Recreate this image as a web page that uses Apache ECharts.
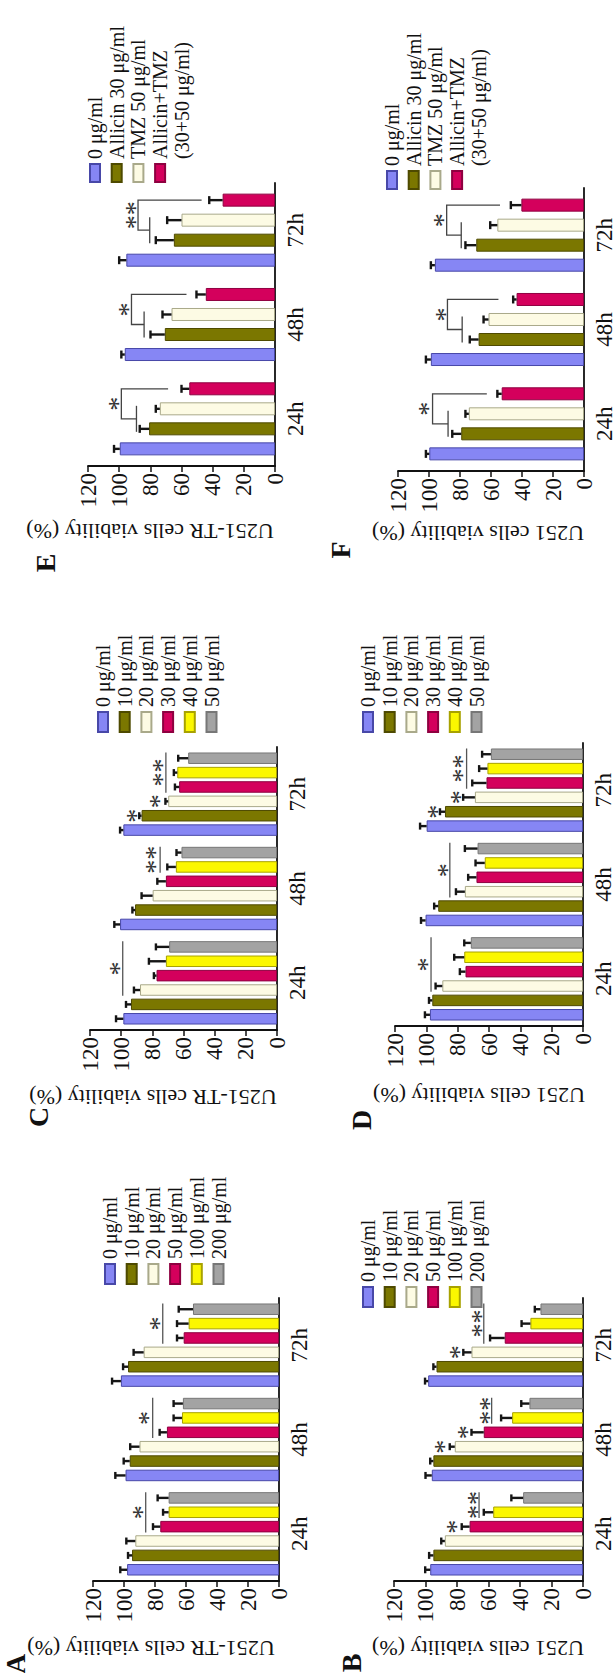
<!DOCTYPE html>
<html>
<head>
<meta charset="utf-8">
<script src="https://cdn.jsdelivr.net/npm/echarts@6/dist/echarts.min.js"></script>
<style>
    html, body { margin: 0; padding: 0; background: #fff; width: 616px; height: 1673px; overflow: hidden; }
    /* the figure is laid out landscape and turned a quarter anticlockwise */
    #page { position: absolute; left: 0; top: 0; width: 1673px; height: 616px; background: #fff;
            transform-origin: 0 0; transform: translateY(1673px) rotate(-90deg); }
    .panel { position: absolute; left: 0; top: 0; width: 1673px; height: 616px; }
</style>
</head>
<body>
<div id="page">
    <div class="panel" id="pA"></div>
    <div class="panel" id="pB"></div>
    <div class="panel" id="pC"></div>
    <div class="panel" id="pD"></div>
    <div class="panel" id="pE"></div>
    <div class="panel" id="pF"></div>
</div>
<script>
const hours = ['24h', '48h', '72h'];
const yTicks = [0, 120, 20];

const doseAB = ['0 μg/ml', '10 μg/ml', '20 μg/ml', '50 μg/ml', '100 μg/ml', '200 μg/ml'];
const doseCD = ['0 μg/ml', '10 μg/ml', '20 μg/ml', '30 μg/ml', '40 μg/ml', '50 μg/ml'];
const comboEF = ['0 μg/ml', 'Allicin 30 μg/ml', 'TMZ 50 μg/ml', 'Allicin+TMZ'];
const comboNote = '(30+50 μg/ml)';

const titleTR = 'U251-TR cells viability (%)';
const titleU = 'U251 cells viability (%)';

// one row per series, one value per time point (24h, 48h, 72h)
const valA = [[98, 99, 102], [94.8, 96.3, 97.4], [92.7, 90, 87.3], [76.6, 72.3, 61.5], [71.2, 62.6, 58.3], [71.2, 62, 55.5]];
const errA = [[4.4, 6.6, 5.7], [2.6, 3.9, 3.2], [5.8, 6, 6.5], [4.7, 4.7, 4.3], [3.6, 5.4, 7.5], [7.1, 6, 9.2]];
const valB = [[97, 96, 98.3], [95, 95, 93], [87.7, 81.4, 70.8], [72, 63, 49.7], [57, 45, 33.4], [38, 34, 27]];
const errB = [[3.2, 4, 2], [2.7, 2, 2], [2.3, 3.2, 5.2], [5, 7.8, 9.3], [6, 7, 5.6], [7.5, 5.2, 3.6]];
const valC = [[98.6, 100.7, 98.6], [93.7, 91.1, 86.9], [87.9, 79.8, 69.8], [77.3, 71.3, 62.8], [71.3, 64.9, 64], [69.2, 61.3, 57]];
const errC = [[4.7, 3.7, 2.1], [3.2, 1.7, 1.5], [3.9, 7.1, 1.8], [1.7, 5.5, 2.7], [10.9, 5.5, 2.2], [8.5, 3.2, 6.4]];
const valD = [[97.7, 100.5, 99.8], [96.2, 92.4, 88.1], [89.8, 75.4, 69], [75, 68, 61.6], [75.8, 62.7, 61], [71.6, 67.3, 58.8]];
const errD = [[3.2, 2.9, 4.2], [2.1, 2.6, 3.2], [4.3, 5.7, 7.5], [3.6, 5.3, 9.1], [6.4, 5.9, 5.3], [4.2, 8.1, 5.6]];
const valE = [[99.6, 96.4, 95.4], [80.8, 70.7, 64.9], [73.9, 66.4, 60], [55, 44.4, 33.6]];
const errE = [[3.7, 2.2, 4.6], [6, 9.2, 11.6], [2.6, 5.8, 9.2], [5, 6, 8.6]];
const valF = [[99.8, 98.8, 96.2], [79.2, 68, 69.5], [74.3, 61.6, 55.9], [53.1, 43.5, 40.4]];
const errF = [[2.2, 3.2, 2.6], [5.8, 5.7, 7], [2.2, 3.2, 4.6], [2.8, 2.2, 6.8]];

// significance: [time, firstBar, lastBar, lineValue (-1 = no line), starValue, stars]
const sigA = [[0, 3, 5, 86, 92, 1], [1, 3, 5, 81.5, 88, 1], [2, 3, 5, 75, 81, 1]];
const sigB = [[0, 3, 3, -1, 84, 1], [0, 4, 5, 66, 71, 2], [1, 2, 2, -1, 92, 1], [1, 3, 3, -1, 77, 1],
              [1, 4, 5, 58, 63, 2], [2, 2, 2, -1, 82, 1], [2, 3, 5, 63, 68, 2]];
const sigC = [[0, 2, 5, 99, 105, 1], [1, 4, 5, 75, 81.5, 2], [2, 1, 1, -1, 94, 1], [2, 2, 2, -1, 79, 1], [2, 3, 5, 71.3, 77.3, 2]];
const sigD = [[0, 2, 5, 97, 103, 1], [1, 2, 5, 85, 90.3, 1], [2, 1, 1, -1, 96.6, 1], [2, 2, 2, -1, 82, 1], [2, 3, 5, 74.3, 80.7, 2]];
// brackets: [time, pairLine, mainLine, dropEnd, starValue, stars]
const brkE = [[0, 88.9, 98.6, 68.6, 104, 1], [1, 84, 92.1, 56.8, 98, 1], [2, 80.4, 87.9, 47.1, 93.2, 2]];
const brkF = [[0, 87.7, 97.7, 62.7, 104, 1], [1, 78.6, 88.1, 55.2, 93.5, 1], [2, 79.2, 88.6, 54.2, 94.5, 1]];

const fills = ['#8686f4', '#7b7700', '#fdfbe4', '#d4005c', '#fbf700', '#a3a3a3'];
const borders = ['#4848a8', '#4e4a00', '#a9a98a', '#8e0040', '#a8a200', '#777777'];
const serif = 'Liberation Serif';
const ink = '#111';

// layout in landscape pixels: grid [left, top, height], legend [left, top, iconW]
const panels = [
    { id: 'pA', letter: 'A', title: titleTR, names: doseAB, vals: valA, errs: errA, sig: sigA,
      grid: [92, 93, 186], legend: [383, 95, 20], titleAt: [25, 151], letterAt: [9, 15], bw: 11.5, gap: 0.25, cap: 7 },
    { id: 'pB', letter: 'B', title: titleU, names: doseAB, vals: valB, errs: errB, sig: sigB,
      grid: [92, 394, 189], legend: [360, 353, 20], titleAt: [25, 478], letterAt: [10, 351], bw: 11.5, gap: 0.25, cap: 7 },
    { id: 'pC', letter: 'C', title: titleTR, names: doseCD, vals: valC, errs: errC, sig: sigC,
      grid: [643, 90, 187], legend: [935, 88, 20], titleAt: [576, 153], letterAt: [556, 38], bw: 11.5, gap: 0.25, cap: 7 },
    { id: 'pD', letter: 'D', title: titleU, names: doseCD, vals: valD, errs: errD, sig: sigD,
      grid: [647, 395, 188], legend: [935, 353, 20], titleAt: [578, 479], letterAt: [553, 361], bw: 11.5, gap: 0.25, cap: 7 },
    { id: 'pE', letter: 'E', title: titleTR, names: comboEF, vals: valE, errs: errE, brk: brkE,
      grid: [1207, 88, 187], legend: [1485, 80, 18], titleAt: [1142, 150], letterAt: [1110, 45], bw: 13, gap: 0.54, cap: 8 },
    { id: 'pF', letter: 'F', title: titleU, names: comboEF, vals: valF, errs: errF, brk: brkF,
      grid: [1202, 398, 189], legend: [1478, 377, 18], titleAt: [1140, 478], letterAt: [1123, 340], bw: 13, gap: 0.54, cap: 8 }
];

// centre of bar k inside a time group, same arithmetic as the bar layout
function barX(api, cat, k, p) {
    const n = p.names.length;
    const gap = p.bw * p.gap;
    const total = n * p.bw + (n - 1) * gap;
    return api.coord([cat, 0])[0] - total / 2 + k * (p.bw + gap) + p.bw / 2;
}

function starText(x, y, count) {
    return { type: 'text', style: { text: '*'.repeat(count), x: x, y: y + 5, textAlign: 'center',
             textVerticalAlign: 'middle', fontFamily: serif, fontSize: 28, fill: '#333' } };
}

function errRender(p) {
    return (params, api) => {
        const cat = api.value(0), k = api.value(1), v = api.value(2), e = api.value(3);
        const x = barX(api, cat, k, p);
        const y0 = api.coord([cat, v])[1];
        const y1 = api.coord([cat, v + e])[1];
        const st = { stroke: '#151515', lineWidth: 2.4 };
        return { type: 'group', children: [
            { type: 'line', shape: { x1: x, y1: y0, x2: x, y2: y1 }, style: st },
            { type: 'line', shape: { x1: x - p.cap / 2, y1: y1, x2: x + p.cap / 2, y2: y1 }, style: st }
        ] };
    };
}

function sigRender(p) {
    return (params, api) => {
        const cat = api.value(0);
        const xa = barX(api, cat, api.value(1), p), xb = barX(api, cat, api.value(2), p);
        const lineV = api.value(3);
        const kids = [];
        if (lineV > 0) {
            const y = api.coord([cat, lineV])[1];
            kids.push({ type: 'line', shape: { x1: xa - p.bw / 2, y1: y, x2: xb + p.bw / 2, y2: y },
                        style: { stroke: '#555', lineWidth: 1.3 } });
        }
        kids.push(starText((xa + xb) / 2, api.coord([cat, api.value(4)])[1], api.value(5)));
        return { type: 'group', children: kids };
    };
}

function brkRender(p) {
    return (params, api) => {
        const cat = api.value(0);
        const c1 = barX(api, cat, 1, p), c2 = barX(api, cat, 2, p), c3 = barX(api, cat, 3, p);
        const ySub = api.coord([cat, api.value(1)])[1];
        const yMain = api.coord([cat, api.value(2)])[1];
        const yDrop = api.coord([cat, api.value(3)])[1];
        const xm = (c1 + c2) / 2;
        const st = { stroke: '#444', lineWidth: 1.3, fill: 'none' };
        return { type: 'group', children: [
            { type: 'line', shape: { x1: c1 - 3, y1: ySub, x2: c2 + 3, y2: ySub }, style: st },
            { type: 'polyline', shape: { points: [[xm, ySub], [xm, yMain], [c3, yMain], [c3, yDrop]] }, style: st },
            starText((xm + c3) / 2, api.coord([cat, api.value(4)])[1], api.value(5))
        ] };
    };
}

function buildOption(p) {
    const series = p.names.map((name, k) => ({
        type: 'bar', name: name, data: p.vals[k], barWidth: p.bw, barGap: (p.gap * 100) + '%',
        itemStyle: { color: fills[k], borderColor: borders[k], borderWidth: 1 }
    }));
    const errData = [];
    p.vals.forEach((row, k) => row.forEach((v, h) => errData.push([h, k, v, p.errs[k][h]])));
    series.push({ type: 'custom', data: errData, encode: { x: 0, y: 2 }, renderItem: errRender(p), z: 3 });
    if (p.sig) series.push({ type: 'custom', data: p.sig, encode: { x: 0, y: 4 }, renderItem: sigRender(p), z: 4 });
    if (p.brk) series.push({ type: 'custom', data: p.brk, encode: { x: 0, y: 2 }, renderItem: brkRender(p), z: 4 });

    const legendData = p.names.slice();
    if (p.brk) {
        series.push({ type: 'line', name: comboNote, data: [] });
        legendData.push({ name: comboNote, icon: 'none' });
    }

    const axisLine = { show: true, lineStyle: { color: ink, width: 1.8 } };
    const label = { fontFamily: serif, fontSize: 23, color: ink };
    return {
        animation: false,
        grid: { left: p.grid[0], top: p.grid[1], width: 283, height: p.grid[2] },
        xAxis: { type: 'category', data: hours, axisLine: axisLine,
                 axisTick: { alignWithLabel: true, length: 5, lineStyle: { color: ink, width: 1.5 } },
                 axisLabel: { ...label, margin: 9 } },
        yAxis: { type: 'value', min: yTicks[0], max: yTicks[1], interval: yTicks[2], axisLine: axisLine,
                 axisTick: { show: true, length: 6, lineStyle: { color: ink, width: 1.5 } },
                 splitLine: { show: false }, axisLabel: { ...label, margin: 7 } },
        legend: { orient: 'vertical', left: p.legend[0], top: p.legend[1], icon: 'rect',
                  itemWidth: p.legend[2], itemHeight: 10, itemGap: 1.7, selectedMode: false,
                  textStyle: { fontFamily: serif, fontSize: 20, lineHeight: 20, color: ink },
                  data: legendData },
        graphic: [
            { type: 'text', x: p.titleAt[0], y: p.titleAt[1], rotation: Math.PI / 2,
              style: { text: p.title, textAlign: 'center', textVerticalAlign: 'middle',
                       fontFamily: serif, fontSize: 22, fill: ink } },
            { type: 'text', x: p.letterAt[0], y: p.letterAt[1],
              style: { text: p.letter, textAlign: 'center', textVerticalAlign: 'middle',
                       fontFamily: serif, fontSize: 28, fontWeight: 'bold', fill: ink } }
        ],
        series: series
    };
}

panels.forEach(p => {
    const chart = echarts.init(document.getElementById(p.id), null, { renderer: 'svg' });
    chart.setOption(buildOption(p));
});
</script>
</body>
</html>
